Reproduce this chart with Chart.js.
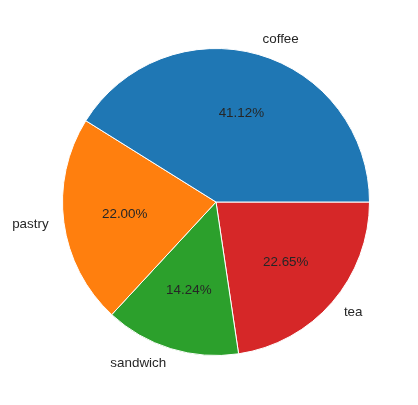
<!DOCTYPE html>
<html>
<head>
<meta charset="utf-8">
<script src="https://cdn.jsdelivr.net/npm/chart.js@4.4.0/dist/chart.umd.min.js"></script>
<style>
  html, body { margin:0; padding:0; background:#fff; }
  #wrap { width:418px; height:405px; position:relative; }
</style>
</head>
<body>
<div id="wrap"><canvas id="pie"></canvas></div>
<script>
// sales share by item (matplotlib-style pie, counter-clockwise from east)
const categories = ['coffee', 'pastry', 'sandwich', 'tea'];
const shares = [41.12, 22.00, 14.24, 22.65];
const colors = ['#1f77b4', '#ff7f0e', '#2ca02c', '#d62728'];

// Chart.js draws clockwise, so feed the slices in reverse
const labelsR = categories.slice().reverse();
const dataR = shares.slice().reverse();
const colorsR = colors.slice().reverse();

const pieText = {
  id: 'pieText',
  afterDatasetsDraw(chart) {
    const ctx = chart.ctx;
    const arcs = chart.getDatasetMeta(0).data;
    ctx.save();
    ctx.fillStyle = '#262626';
    ctx.font = '13.4px "Liberation Sans", Arial, sans-serif';
    ctx.textBaseline = 'middle';
    arcs.forEach((arc, i) => {
      const a = (arc.startAngle + arc.endAngle) / 2;
      const r = arc.outerRadius;
      const c = Math.cos(a), s = Math.sin(a);
      // category label outside
      ctx.textAlign = c >= 0 ? 'left' : 'right';
      ctx.fillText(labelsR[i], arc.x + c * r * 1.1, arc.y + s * r * 1.1);
      // percentage inside
      ctx.textAlign = 'center';
      ctx.fillText(dataR[i].toFixed(2) + '%', arc.x + c * r * 0.6, arc.y + s * r * 0.6);
    });
    ctx.restore();
  }
};

new Chart(document.getElementById('pie'), {
  type: 'pie',
  data: {
    labels: labelsR,
    datasets: [{ data: dataR, backgroundColor: colorsR, borderColor: '#ffffff', borderWidth: 1 }]
  },
  options: {
    responsive: true,
    maintainAspectRatio: false,
    animation: false,
    rotation: 90,
    layout: { padding: { left: 62, right: 48, top: 48, bottom: 49 } },
    plugins: { legend: { display: false }, tooltip: { enabled: false } }
  },
  plugins: [pieText]
});
</script>
</body>
</html>
